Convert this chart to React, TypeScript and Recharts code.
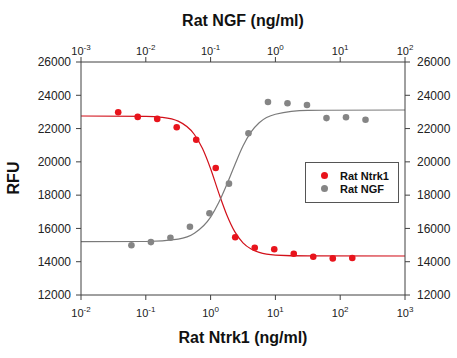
import React from 'react';
import { ComposedChart, Line, Scatter, XAxis, YAxis } from 'recharts';

const ntrk1Conc = [0.0375, 0.075, 0.15, 0.3, 0.6, 1.2, 2.4, 4.8, 9.6, 19.2, 38.4, 76.8, 153.6];
const ntrk1Rfu = [22980, 22700, 22580, 22080, 21330, 19630, 15470, 14840, 14750, 14480, 14300, 14200, 14220];
const ngfConc = [0.006, 0.012, 0.024, 0.048, 0.096, 0.192, 0.384, 0.768, 1.536, 3.072, 6.144, 12.29, 24.58];
const ngfRfu = [14990, 15180, 15440, 16100, 16910, 18690, 21720, 23600, 23520, 23420, 22630, 22680, 22530];

// fitted curves
const ntrk1FitConc = [0.01, 0.1, 0.178, 0.316, 0.562, 0.75, 1, 1.33, 1.78, 2.37, 3.16, 4.22, 5.62, 10, 31.6, 1000];
const ntrk1FitRfu = [22755, 22735, 22675, 22445, 21645, 20799, 19584, 18154, 16810, 15791, 15137, 14761, 14558, 14398, 14347, 14343];
const ngfFitConc = [0.001, 0.01, 0.0316, 0.0562, 0.1, 0.133, 0.178, 0.237, 0.316, 0.422, 0.562, 1, 3.16, 100];
const ngfFitRfu = [15202, 15216, 15361, 15711, 16681, 17544, 18646, 19830, 20950, 21800, 22350, 22860, 23095, 23116];

const bottomTicks = [0.01, 0.1, 1, 10, 100, 1000];
const topTicks = [0.001, 0.01, 0.1, 1, 10, 100];
const yTicks = [12000, 14000, 16000, 18000, 20000, 22000, 24000, 26000];

const FONT = '"Liberation Sans", Arial, sans-serif';
const AXIS = '#404040';
const RED = '#e8141c';
const GRAY = '#858585';

const zip = (xs: number[], ys: number[]) => xs.map((x, i) => ({ x, y: ys[i] }));

const PowTick = ({ x, y, payload, shift }: any) => {
  const exp = Math.round(Math.log10(payload.value));
  return (
    <text x={x} y={y + shift} textAnchor="middle" fill="#222" fontFamily={FONT} fontSize={11}>
      <tspan>10</tspan>
      <tspan dy={-5} fontSize={8}>{exp}</tspan>
    </text>
  );
};

const Dot = (color: string) => (props: any) => <circle cx={props.cx} cy={props.cy} r={3.3} fill={color} />;

export default function App() {
  const titleStyle: React.CSSProperties = {
    position: 'absolute',
    fontFamily: FONT,
    fontWeight: 'bold',
    fontSize: 16,
    color: '#111',
    whiteSpace: 'nowrap',
  };

  return (
    <div style={{ position: 'absolute', left: 0, top: 0, width: 457, height: 358, background: '#fff' }}>
      <ComposedChart width={457} height={358} margin={{ top: 0, right: 0, bottom: 0, left: 0 }}>
        <XAxis
          xAxisId="bottom"
          dataKey="x"
          type="number"
          scale="log"
          domain={[0.01, 1000]}
          ticks={bottomTicks}
          allowDataOverflow
          height={63}
          stroke={AXIS}
          tickSize={5}
          tickMargin={2}
          tick={<PowTick shift={15} />}
        />
        <XAxis
          xAxisId="top"
          orientation="top"
          dataKey="x"
          type="number"
          scale="log"
          domain={[0.001, 100]}
          ticks={topTicks}
          allowDataOverflow
          height={62}
          stroke={AXIS}
          tickSize={5}
          tickMargin={2}
          tick={<PowTick shift={0} />}
        />
        <YAxis
          yAxisId="left"
          type="number"
          domain={[12000, 26000]}
          ticks={yTicks}
          width={81}
          stroke={AXIS}
          tickSize={5}
          tickMargin={5}
          tick={{ fill: '#222', fontSize: 12, fontFamily: FONT }}
          allowDataOverflow
        />
        <YAxis
          yAxisId="right"
          orientation="right"
          type="number"
          domain={[12000, 26000]}
          ticks={yTicks}
          width={52}
          stroke={AXIS}
          tickSize={5}
          tickMargin={7}
          tick={{ fill: '#222', fontSize: 12, fontFamily: FONT }}
          allowDataOverflow
        />
        <Line
          xAxisId="bottom"
          yAxisId="left"
          data={zip(ntrk1FitConc, ntrk1FitRfu)}
          dataKey="y"
          type="monotone"
          stroke="#d2101a"
          strokeWidth={1.2}
          dot={false}
          activeDot={false}
          isAnimationActive={false}
        />
        <Line
          xAxisId="top"
          yAxisId="left"
          data={zip(ngfFitConc, ngfFitRfu)}
          dataKey="y"
          type="monotone"
          stroke="#7a7a7a"
          strokeWidth={1.2}
          dot={false}
          activeDot={false}
          isAnimationActive={false}
        />
        <Scatter
          xAxisId="bottom"
          yAxisId="left"
          data={zip(ntrk1Conc, ntrk1Rfu)}
          dataKey="y"
          shape={Dot(RED)}
          isAnimationActive={false}
        />
        <Scatter
          xAxisId="top"
          yAxisId="left"
          data={zip(ngfConc, ngfRfu)}
          dataKey="y"
          shape={Dot(GRAY)}
          isAnimationActive={false}
        />
      </ComposedChart>

      <div style={{ ...titleStyle, left: 0, width: 486, top: 12, textAlign: 'center' }}>Rat NGF (ng/ml)</div>
      <div style={{ ...titleStyle, left: 0, width: 486, top: 329, textAlign: 'center' }}>Rat Ntrk1 (ng/ml)</div>
      <div style={{ ...titleStyle, left: 14, top: 178, transform: 'translate(-50%, -50%) rotate(-90deg)' }}>RFU</div>

      <div
        style={{
          position: 'absolute',
          left: 305,
          top: 162,
          width: 92,
          height: 39,
          border: '1px solid #555',
          fontFamily: FONT,
          fontWeight: 'bold',
          fontSize: 11,
          color: '#111',
        }}
      >
        {[
          { name: 'Rat Ntrk1', color: RED },
          { name: 'Rat NGF', color: GRAY },
        ].map((s, i) => (
          <div key={s.name} style={{ position: 'absolute', left: 15, top: 6 + i * 13, height: 13, display: 'flex', alignItems: 'center' }}>
            <span style={{ width: 7, height: 7, borderRadius: '50%', background: s.color, display: 'inline-block' }} />
            <span style={{ marginLeft: 12 }}>{s.name}</span>
          </div>
        ))}
      </div>
    </div>
  );
}
